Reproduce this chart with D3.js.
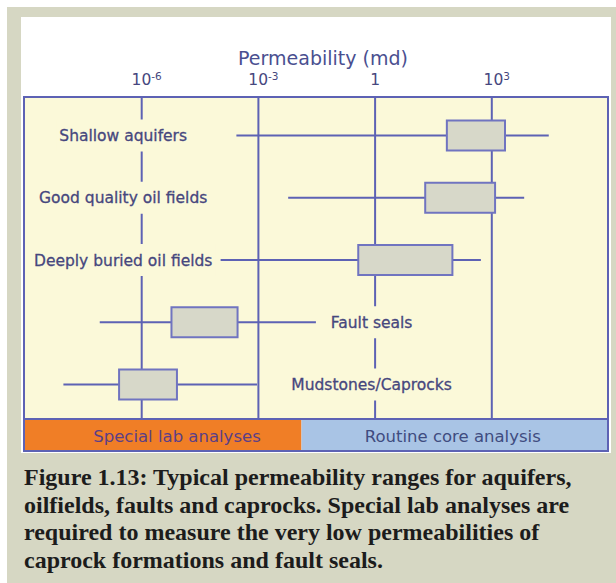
<!DOCTYPE html>
<html>
<head>
<meta charset="utf-8">
<script src="https://cdn.jsdelivr.net/npm/d3@7"></script>
<style>
  html, body { margin: 0; padding: 0; background: #ffffff; }
  svg { display: block; }
</style>
</head>
<body>
<div id="container"></div>
<script>
// Permeability ranges (md) per rock type
const categories = ["Shallow aquifers", "Good quality oil fields", "Deeply buried oil fields", "Fault seals", "Mudstones/Caprocks"];
const whiskerLow = [2.8e-4, 6e-3, 1.1e-4, 8.6e-8, 1e-8];
const boxLow = [72, 20, 0.38, 6e-6, 2.7e-7];
const boxHigh = [2250, 1250, 100, 3e-4, 8.3e-6];
const whiskerHigh = [3e4, 7000, 540, 0.031, 9.5e-4];
// gridline each label sits on
const labelAt = [1e-6, 1e-6, 1e-6, 1, 1];

// axis
const tickValues = [1e-6, 1e-3, 1, 1e3];
const tickBase = ["10", "10", "1", "10"];
const tickExp = ["-6", "-3", "", "3"];

// analysis bands along the bottom
const bandLabels = ["Special lab analyses", "Routine core analysis"];
const bandEdges = [1e-9, 0.0132, 1e6];

const captionLines = [
  "Figure 1.13: Typical permeability ranges for aquifers,",
  "oilfields, faults and caprocks. Special lab analyses are",
  "required to measure the very low permeabilities of",
  "caprock formations and fault seals."
];

const main = (container) => {
  const W = 616, H = 583;
  const ink = "#5d62b4";      // frame / lines
  const txt = "#46477e";      // chart text
  const sans = "'DejaVu Sans', Verdana, sans-serif";

  const frame = { left: 24, right: 608, top: 97, bottom: 419, bandBottom: 451 };

  const svg = d3.select(container)
    .append("svg")
    .attr("width", W)
    .attr("height", H);

  // grey page + white panel
  svg.append("rect")
    .attr("x", 7).attr("y", 7)
    .attr("width", W - 7).attr("height", H - 7)
    .attr("fill", "#d6d7c3");

  svg.append("rect")
    .attr("x", 21).attr("y", 17)
    .attr("width", 590).attr("height", 436)
    .attr("fill", "#ffffff");

  // scales
  const x = d3.scaleLog()
    .domain([1e-9, 1e6])
    .range([frame.left + 0.5, frame.right]);

  const y = d3.scalePoint()
    .domain(categories)
    .range([135.5, 384.5]);

  // plot background
  svg.append("rect")
    .attr("x", frame.left).attr("y", frame.top)
    .attr("width", frame.right - frame.left)
    .attr("height", frame.bottom - frame.top)
    .attr("fill", "#fbf9d9");

  // bands
  const bandColors = ["#f07e26", "#a9c4e5"];
  const bandShift = [14, -2];
  const bands = bandLabels.map((label, i) => ({ label, from: bandEdges[i], to: bandEdges[i + 1] }));

  svg.selectAll(".band")
    .data(bands)
    .enter()
    .append("rect")
    .attr("class", "band")
    .attr("x", d => x(d.from))
    .attr("y", frame.bottom)
    .attr("width", d => x(d.to) - x(d.from))
    .attr("height", frame.bandBottom - frame.bottom)
    .attr("fill", (d, i) => bandColors[i]);

  svg.selectAll(".band-label")
    .data(bands)
    .enter()
    .append("text")
    .attr("class", "band-label")
    .attr("x", (d, i) => (x(d.from) + x(d.to)) / 2 + bandShift[i])
    .attr("y", (frame.bottom + frame.bandBottom) / 2 + 1)
    .attr("dy", "0.36em")
    .attr("text-anchor", "middle")
    .style("font-family", sans)
    .style("font-size", "16.5px")
    .style("fill", (d, i) => i === 0 ? "#5b3f86" : "#3f4c80")
    .text(d => d.label);

  // top axis with gridlines
  const axis = svg.append("g")
    .attr("transform", `translate(0,${frame.top})`)
    .call(d3.axisTop(x)
      .tickValues(tickValues)
      .tickSize(-(frame.bottom - frame.top))
      .tickPadding(12));

  axis.select(".domain").remove();
  axis.selectAll(".tick line")
    .attr("stroke", ink)
    .attr("stroke-width", 2);

  axis.selectAll(".tick text")
    .style("font-family", sans)
    .style("font-size", "15.5px")
    .style("fill", txt)
    .attr("x", (d, i) => tickExp[i] ? 5 : 0)
    .text(null)
    .each(function (d, i) {
      const t = d3.select(this);
      t.append("tspan").text(tickBase[i]);
      if (tickExp[i]) {
        t.append("tspan")
          .attr("dy", "-0.45em")
          .style("font-size", "10.5px")
          .text(tickExp[i]);
      }
    });

  // title
  svg.append("text")
    .attr("x", 323)
    .attr("y", 65)
    .attr("text-anchor", "middle")
    .style("font-family", sans)
    .style("font-size", "19px")
    .style("fill", "#4a4f90")
    .text("Permeability (md)");

  // rows
  const rows = categories.map((name, i) => ({
    name,
    wLo: whiskerLow[i], bLo: boxLow[i], bHi: boxHigh[i], wHi: whiskerHigh[i],
    at: labelAt[i], i
  }));

  // row labels, with a background patch that breaks the gridline
  const label = svg.selectAll(".row-label")
    .data(rows)
    .enter()
    .append("g")
    .attr("class", "row-label");

  const labelText = label.append("text")
    .attr("x", d => x(d.at) + (d.at < 1e-3 ? -18 : -3))
    .attr("y", d => y(d.name))
    .attr("dy", "0.36em")
    .attr("text-anchor", "middle")
    .style("font-family", sans)
    .style("font-size", "15.5px")
    .style("fill", txt)
    .style("stroke", txt)
    .style("stroke-width", 0.3)
    .text(d => d.name);

  labelText.each(function (d) {
    const b = this.getBBox();
    d3.select(this.parentNode).insert("rect", "text")
      .attr("x", b.x - 3)
      .attr("y", y(d.name) - 16)
      .attr("width", b.width + 6)
      .attr("height", 32)
      .attr("fill", "#fbf9d9");
  });

  // whiskers
  svg.selectAll(".whisker")
    .data(rows)
    .enter()
    .append("line")
    .attr("class", "whisker")
    .attr("x1", d => x(d.wLo))
    .attr("x2", d => x(d.wHi))
    .attr("y1", d => y(d.name))
    .attr("y2", d => y(d.name))
    .attr("stroke", ink)
    .attr("stroke-width", 2);

  // boxes
  svg.selectAll(".box")
    .data(rows)
    .enter()
    .append("rect")
    .attr("class", "box")
    .attr("x", d => x(d.bLo))
    .attr("y", d => y(d.name) - 15)
    .attr("width", d => x(d.bHi) - x(d.bLo))
    .attr("height", 30)
    .attr("fill", "#d7d8c9")
    .attr("stroke", "#7074c0")
    .attr("stroke-width", 2);

  // frame
  svg.append("rect")
    .attr("x", frame.left).attr("y", frame.top)
    .attr("width", frame.right - frame.left)
    .attr("height", frame.bandBottom - frame.top)
    .attr("fill", "none")
    .attr("stroke", ink)
    .attr("stroke-width", 2);

  svg.append("line")
    .attr("x1", frame.left).attr("x2", frame.right)
    .attr("y1", frame.bottom).attr("y2", frame.bottom)
    .attr("stroke", ink)
    .attr("stroke-width", 2);

  // caption
  svg.append("g")
    .selectAll("text")
    .data(captionLines)
    .enter()
    .append("text")
    .attr("x", 24)
    .attr("y", (d, i) => 485 + i * 27.6)
    .style("font-family", "'Liberation Serif', 'Times New Roman', serif")
    .style("font-weight", "bold")
    .style("font-size", "24px")
    .style("fill", "#1c1c1c")
    .text(d => d);
};

main(document.getElementById("container"));
</script>
</body>
</html>
